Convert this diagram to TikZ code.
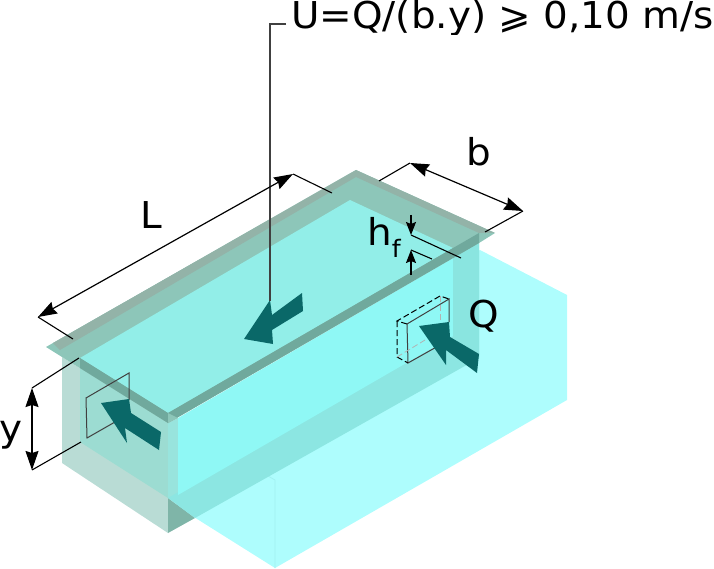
\documentclass[tikz,border=0pt]{standalone}
\usepackage{fontspec}
\setmainfont[FakeStretch=1.05]{DejaVu Sans}
\usetikzlibrary{arrows.meta}
\definecolor{cyanbox}{HTML}{AEFDFD}
\definecolor{surface}{HTML}{92EEE8}
\definecolor{wallc}{HTML}{8FF8F5}
\definecolor{stripc}{HTML}{8AE5E0}
\definecolor{bandc}{HTML}{8CE6E2}
\definecolor{palec}{HTML}{B9DCD5}
\definecolor{waterl}{HTML}{9CDCD2}
\definecolor{cornerc}{HTML}{98E4DD}
\definecolor{darkb}{HTML}{7FB5A8}
\definecolor{rimc}{HTML}{8DC6B9}
\definecolor{rimd}{HTML}{93B3A8}
\definecolor{frontb}{HTML}{70A99D}
\definecolor{arrowc}{HTML}{0A6868}
\definecolor{faint}{HTML}{A0F0F0}
\tikzset{
  flow/.style={fill=arrowc,draw=none},
  dim/.style={draw=black,line width=1.2pt,{Stealth[length=19pt,width=13pt,inset=2pt]}-{Stealth[length=19pt,width=13pt,inset=2pt]}},
  tick/.style={draw=black,line width=1.1pt},
  frameline/.style={draw=black!75,line width=1pt},
  hidden/.style={draw=black,line width=1pt,dash pattern=on 6pt off 3pt},
  hidfaint/.style={draw=black!30,line width=0.8pt,dash pattern=on 6pt off 3pt},
  htip/.style={line width=1.1pt,-{Stealth[length=13pt,width=10pt,inset=2pt]}},
  lab/.style={inner sep=0pt,font=\fontsize{37}{40}\selectfont}
}
\begin{document}
\begin{tikzpicture}[x=1pt,y=-1pt]
\useasboundingbox (0,0) rectangle (714,569);
% cyan outer block
\fill[cyanbox] (178,423) -- (480,250) -- (567,295) -- (567,400) -- (275,568) -- (178,507) -- cycle;
\draw[faint,line width=0.7pt] (240,460) -- (275,480) -- (275,568);
% left walls
\fill[palec] (62,357) -- (168,423) -- (168,533) -- (62,463) -- cycle;
\fill[waterl] (80,368) -- (168,423) -- (168,498) -- (80,442) -- cycle;
\fill[cornerc] (168,423) -- (178,418) -- (178,504) -- (168,498) -- cycle;
\fill[darkb] (168,498) -- (195,518) -- (168,533) -- cycle;
% front wall
\fill[bandc] (168,498) -- (453,336) -- (453,250) -- (479,243) -- (479,358) -- (195,518) -- cycle;
\fill[wallc] (178,418) -- (453,258) -- (453,336) -- (178,495) -- cycle;
\fill[stripc] (453,255) -- (479,243) -- (479,358) -- (453,343) -- cycle;
% slab
\fill[rimc] (46,347) -- (356,170) -- (495,233) -- (479,243) -- (168,423) -- cycle;
\fill[rimd] (53,343) -- (356,170) -- (495,233) -- (479,233) -- (356,177) -- (60,350) -- cycle;
\fill[surface] (350,200) -- (453,248) -- (168,413) -- (80,358) -- cycle;
\fill[frontb] (80,358) -- (168,413) -- (479,233) -- (479,243) -- (168,423) -- (80,368) -- cycle;
\fill[rimc] (168,413) -- (178,418) -- (168,423) -- cycle;
% opening frames
\coordinate (fa) at (86,398); \coordinate (fb) at (129,373);
\coordinate (fc) at (129,400); \coordinate (fd) at (87,438); \coordinate (fe) at (115,422);
\draw[frameline] (fc) -- (fb) -- (fa) -- (fd) -- (fe);
\coordinate (ba) at (407,324); \coordinate (bb) at (449,299); \coordinate (bc) at (449,322);
\coordinate (bd) at (408,363); \coordinate (be) at (440,345);
\coordinate (ca) at (397,321); \coordinate (cb) at (440,296); \coordinate (cd) at (397,357);
\draw[frameline] (bc) -- (bb) -- (ba) -- (bd) -- (be);
\draw[hidden] (ba) -- (ca) -- (cb) -- (bb);
\draw[hidden] (ca) -- (cd) -- (bd);
\draw[hidfaint] (cb) -- (440,340);
\draw[hidfaint] (cd) -- (425,340);
% flow arrows
\fill[flow] (244,339) -- (270,300) -- (272,315) -- (302,293) -- (303,311) -- (272,330) -- (273,344) -- cycle;
\fill[flow] (101,403) -- (129,399) -- (131,413) -- (161,432) -- (159,450) -- (125,428) -- (127,443) -- cycle;
\fill[flow] (419,326) -- (449,322) -- (450,337) -- (479,354) -- (477,373) -- (446,350) -- (446,365) -- cycle;
% leader
\coordinate (la) at (286,24); \coordinate (lb) at (270,24); \coordinate (lc) at (270,301);
\draw[draw=black!75,line width=1.1pt] (la) -- (lb) -- (lc);
% dimension L
\coordinate (La) at (38,317); \coordinate (Lb) at (293,174);
\coordinate (Lc) at (73,339); \coordinate (Ld) at (332,193);
\draw[dim] (La) -- (Lb);
\draw[tick] (Lc) -- (La); \draw[tick] (Lb) -- (Ld);
% dimension b
\coordinate (ba1) at (410,163); \coordinate (bb1) at (523,211);
\coordinate (bc1) at (379,181); \coordinate (bd1) at (485,232);
\draw[dim] (ba1) -- (bb1);
\draw[tick] (bc1) -- (ba1); \draw[tick] (bb1) -- (bd1);
% dimension y
\coordinate (ya) at (32,388); \coordinate (yb) at (32,470);
\coordinate (yc) at (79,358); \coordinate (yd) at (81,442);
\draw[dim] (ya) -- (yb);
\draw[tick] (yc) -- (ya); \draw[tick] (yb) -- (yd);
% dimension hf
\coordinate (ha) at (411,215); \coordinate (hb) at (411,235);
\coordinate (hc) at (411,250); \coordinate (hd) at (411,275);
\coordinate (he) at (461,258); \coordinate (hf) at (432,259);
\draw[htip] (ha) -- (hb);
\draw[htip] (hd) -- (hc);
\draw[tick] (hb) -- (he); \draw[tick] (hc) -- (hf);
% labels
\begin{scope}
\clip (0,0) rectangle (714,35);
\node[lab,anchor=base west] (formula) at (291,29) {U=Q/(b.y) ⩾ 0,10 m/s};
\end{scope}
\node[lab,anchor=base] (Ltext) at (151,229) {L};
\node[lab,anchor=base] (btext) at (479,166) {b};
\node[lab,anchor=base] (ytext) at (11,441) {y};
\node[lab,anchor=base] (Qtext) at (484,327) {Q};
\node[lab,anchor=base west] (hftext) at (367,245) {h\raisebox{-12pt}{\fontsize{24}{26}\selectfont f}};
\end{tikzpicture}
\end{document}
